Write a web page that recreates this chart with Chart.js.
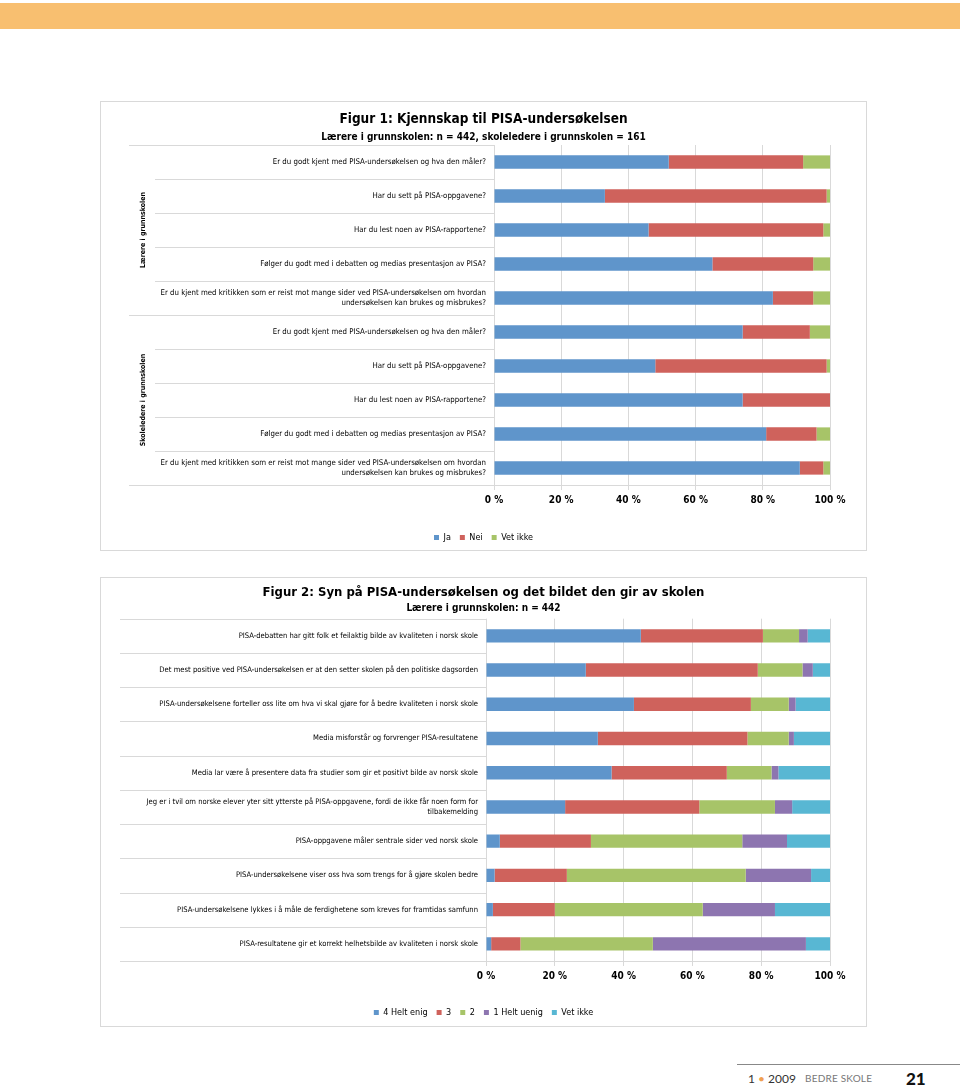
<!DOCTYPE html>
<html lang="no">
<head>
<meta charset="UTF-8">
<title>Figur 1 og 2 - PISA</title>
<script src="https://cdn.jsdelivr.net/npm/chart.js"></script>
<style>
  body { margin: 0; background: #fff; }
  .side { position: relative; width: 960px; height: 1087px; overflow: hidden; }
  .band { position: absolute; left: 0; top: 3px; width: 960px; height: 26px; background: #f8bf70; }
  .boks { position: absolute; left: 100px; width: 765px; height: 448px; border: 1px solid #d9d9d9; }
  #boks1 { top: 101px; }
  #boks2 { top: 577px; }
  .fotlinje { position: absolute; left: 737px; top: 1064px; width: 223px; height: 1px; background: #888; }
  .fot { position: absolute; top: 1071px; font-family: Lato, 'Open Sans', sans-serif; }
  #nr { left: 748px; font-size: 12px; color: #333; }
  #nr span { color: #f0a050; }
  #blad { left: 805px; top: 1072px; font-size: 10px; color: #777; letter-spacing: 0.2px; }
  #side { left: 906px; top: 1068px; font-size: 17px; font-weight: 900; color: #111; }
</style>
</head>
<body>
<div class="side">
  <div class="band"></div>
  <div class="boks" id="boks1"><canvas id="figur1"></canvas></div>
  <div class="boks" id="boks2"><canvas id="figur2"></canvas></div>
  <div class="fotlinje"></div>
  <div class="fot" id="nr">1 <span>&bull;</span> 2009</div>
  <div class="fot" id="blad">BEDRE SKOLE</div>
  <div class="fot" id="side">21</div>
</div>

<script>
  // Figur 1
  const fig1Labels = [
    'Er du godt kjent med PISA-undersøkelsen og hva den måler?',
    'Har du sett på PISA-oppgavene?',
    'Har du lest noen av PISA-rapportene?',
    'Følger du godt med i debatten og medias presentasjon av PISA?',
    ['Er du kjent med kritikken som er reist mot mange sider ved PISA-undersøkelsen om hvordan', 'undersøkelsen kan brukes og misbrukes?'],
    'Er du godt kjent med PISA-undersøkelsen og hva den måler?',
    'Har du sett på PISA-oppgavene?',
    'Har du lest noen av PISA-rapportene?',
    'Følger du godt med i debatten og medias presentasjon av PISA?',
    ['Er du kjent med kritikken som er reist mot mange sider ved PISA-undersøkelsen om hvordan', 'undersøkelsen kan brukes og misbrukes?']
  ];
  const fig1Grupper = ['Lærere i grunnskolen', 'Skoleledere i grunnskolen'];
  const fig1GruppeAntall = [5, 5];
  const fig1Ja = [52, 33, 46, 65, 83, 74, 48, 74, 81, 91];
  const fig1Nei = [40, 66, 52, 30, 12, 20, 51, 26, 15, 7];
  const fig1VetIkke = [8, 1, 2, 5, 5, 6, 1, 0, 4, 2];

  // Figur 2
  const fig2Labels = [
    'PISA-debatten har gitt folk et feilaktig bilde av kvaliteten i norsk skole',
    'Det mest positive ved PISA-undersøkelsen er at den setter skolen på den politiske dagsorden',
    'PISA-undersøkelsene forteller oss lite om hva vi skal gjøre for å bedre kvaliteten i norsk skole',
    'Media misforstår og forvrenger PISA-resultatene',
    'Media lar være å presentere data fra studier som gir et positivt bilde av norsk skole',
    ['Jeg er i tvil om norske elever yter sitt ytterste på PISA-oppgavene, fordi de ikke får noen form for', 'tilbakemelding'],
    'PISA-oppgavene måler sentrale sider ved norsk skole',
    'PISA-undersøkelsene viser oss hva som trengs for å gjøre skolen bedre',
    'PISA-undersøkelsene lykkes i å måle de ferdighetene som kreves for framtidas samfunn',
    'PISA-resultatene gir et korrekt helhetsbilde av kvaliteten i norsk skole'
  ];
  const fig2HeltEnig = [45, 29, 43, 32.5, 36.5, 23, 4, 2.5, 2, 1.5];
  const fig2Tre = [35.5, 50, 34, 43.5, 33.5, 39, 26.5, 21, 18, 8.5];
  const fig2To = [10.5, 13, 11, 12, 13, 22, 44, 52, 43, 38.5];
  const fig2HeltUenig = [2.5, 3, 2, 1.5, 2, 5, 13, 19, 21, 44.5];
  const fig2VetIkke = [6.5, 5, 10, 10.5, 15, 11, 12.5, 5.5, 16, 7];

  const prosentTicks = [0, 20, 40, 60, 80, 100];

  const BLA = '#5f95cb', ROD = '#cf625c', GRONN = '#a7c468', LILLA = '#8d75b0', TURKIS = '#58b7d3';
  const FONT = "'Liberation Sans Narrow', 'DejaVu Sans Condensed', sans-serif";

  Chart.defaults.font.family = FONT;
  Chart.defaults.color = '#000';

  // skillelinjer mellom radene + gruppetekst paa venstre side
  const radLinjer = {
    id: 'radLinjer',
    afterDraw(chart, args, opts) {
      const ys = chart.scales.y;
      const area = chart.chartArea;
      const ctx = chart.ctx;
      const n = chart.data.labels.length;
      const grenser = [0];
      (opts.antall || []).forEach(a => grenser.push(grenser[grenser.length - 1] + a));
      ctx.save();
      ctx.strokeStyle = '#d9d9d9';
      ctx.lineWidth = 1;
      for (let i = 0; i <= n; i++) {
        const py = Math.round(ys.getPixelForValue(i - 0.5)) + 0.5;
        const x0 = grenser.includes(i) ? opts.gruppeX : opts.indreX;
        ctx.beginPath();
        ctx.moveTo(x0, py);
        ctx.lineTo(area.left, py);
        ctx.stroke();
      }
      if (opts.grupper) {
        ctx.fillStyle = '#000';
        ctx.font = 'bold 7px ' + FONT;
        ctx.textAlign = 'center';
        ctx.textBaseline = 'middle';
        opts.grupper.forEach((navn, g) => {
          const midt = (ys.getPixelForValue(grenser[g] - 0.5) + ys.getPixelForValue(grenser[g + 1] - 0.5)) / 2;
          ctx.save();
          ctx.translate(opts.tekstX, midt);
          ctx.rotate(-Math.PI / 2);
          ctx.fillText(navn, 0, 0);
          ctx.restore();
        });
      }
      ctx.restore();
    }
  };

  function lagSett(etikett, data, farge) {
    return {
      label: etikett,
      data: data,
      backgroundColor: farge,
      borderWidth: 0,
      barPercentage: 0.39,
      categoryPercentage: 1
    };
  }

  function lagValg(tittel, tittelStr, undertittel, yBredde, yFont, tittelTopp, undTopp, undBunn, bunn, xHoyde, linjer) {
    return {
      indexAxis: 'y',
      responsive: true,
      maintainAspectRatio: false,
      animation: false,
      layout: { padding: { left: 0, right: 0, top: 0, bottom: bunn } },
      plugins: {
        title: {
          display: true,
          text: tittel,
          font: { size: tittelStr, weight: 'bold' },
          padding: { top: tittelTopp, bottom: 0 }
        },
        subtitle: {
          display: true,
          text: undertittel,
          color: '#000',
          font: { size: 10, weight: 'bold' },
          padding: { top: undTopp, bottom: undBunn }
        },
        legend: {
          position: 'bottom',
          labels: { boxWidth: 5, boxHeight: 5, padding: 9, font: { size: 9 }, color: '#000' }
        },
        tooltip: { enabled: false },
        radLinjer: linjer
      },
      scales: {
        x: {
          stacked: true,
          min: 0,
          max: 100,
          afterBuildTicks: s => { s.ticks = prosentTicks.map(v => ({ value: v })); },
          afterFit: s => { s.height = xHoyde; },
          ticks: { callback: v => v + ' %', font: { size: 10, weight: 'bold' }, padding: 4 },
          grid: { color: '#d9d9d9', tickLength: 5 },
          border: { color: '#d9d9d9' }
        },
        y: {
          stacked: true,
          afterFit: s => { s.width = yBredde; },
          ticks: { autoSkip: false, padding: 8, font: { size: yFont, lineHeight: 1.25 } },
          grid: { display: false, drawTicks: false },
          border: { display: false }
        },
        // tom akse til hoyre, gir luft mellom 100 % og rammen
        hoyre: {
          type: 'category',
          position: 'right',
          afterFit: s => { s.width = 36; },
          ticks: { display: false },
          grid: { display: false, drawTicks: false },
          border: { display: false }
        }
      }
    };
  }

  new Chart(document.getElementById('figur1'), {
    type: 'bar',
    data: {
      labels: fig1Labels,
      datasets: [
        lagSett('Ja', fig1Ja, BLA),
        lagSett('Nei', fig1Nei, ROD),
        lagSett('Vet ikke', fig1VetIkke, GRONN)
      ]
    },
    options: lagValg(
      'Figur 1: Kjennskap til PISA-undersøkelsen', 13.5,
      'Lærere i grunnskolen: n = 442, skoleledere i grunnskolen = 161',
      393, 7.8, 8.9, 3.9, 2, -2, 39,
      { antall: fig1GruppeAntall, grupper: fig1Grupper, gruppeX: 28, indreX: 54, tekstX: 42 }
    ),
    plugins: [radLinjer]
  });

  new Chart(document.getElementById('figur2'), {
    type: 'bar',
    data: {
      labels: fig2Labels,
      datasets: [
        lagSett('4 Helt enig', fig2HeltEnig, BLA),
        lagSett('3', fig2Tre, ROD),
        lagSett('2', fig2To, GRONN),
        lagSett('1 Helt uenig', fig2HeltUenig, LILLA),
        lagSett('Vet ikke', fig2VetIkke, TURKIS)
      ]
    },
    options: lagValg(
      'Figur 2: Syn på PISA-undersøkelsen og det bildet den gir av skolen', 13,
      'Lærere i grunnskolen: n = 442',
      385, 7.6, 7.2, 1.9, 4, -1, 38,
      { antall: [fig2Labels.length], gruppeX: 19, indreX: 19 }
    ),
    plugins: [radLinjer]
  });
</script>
</body>
</html>
